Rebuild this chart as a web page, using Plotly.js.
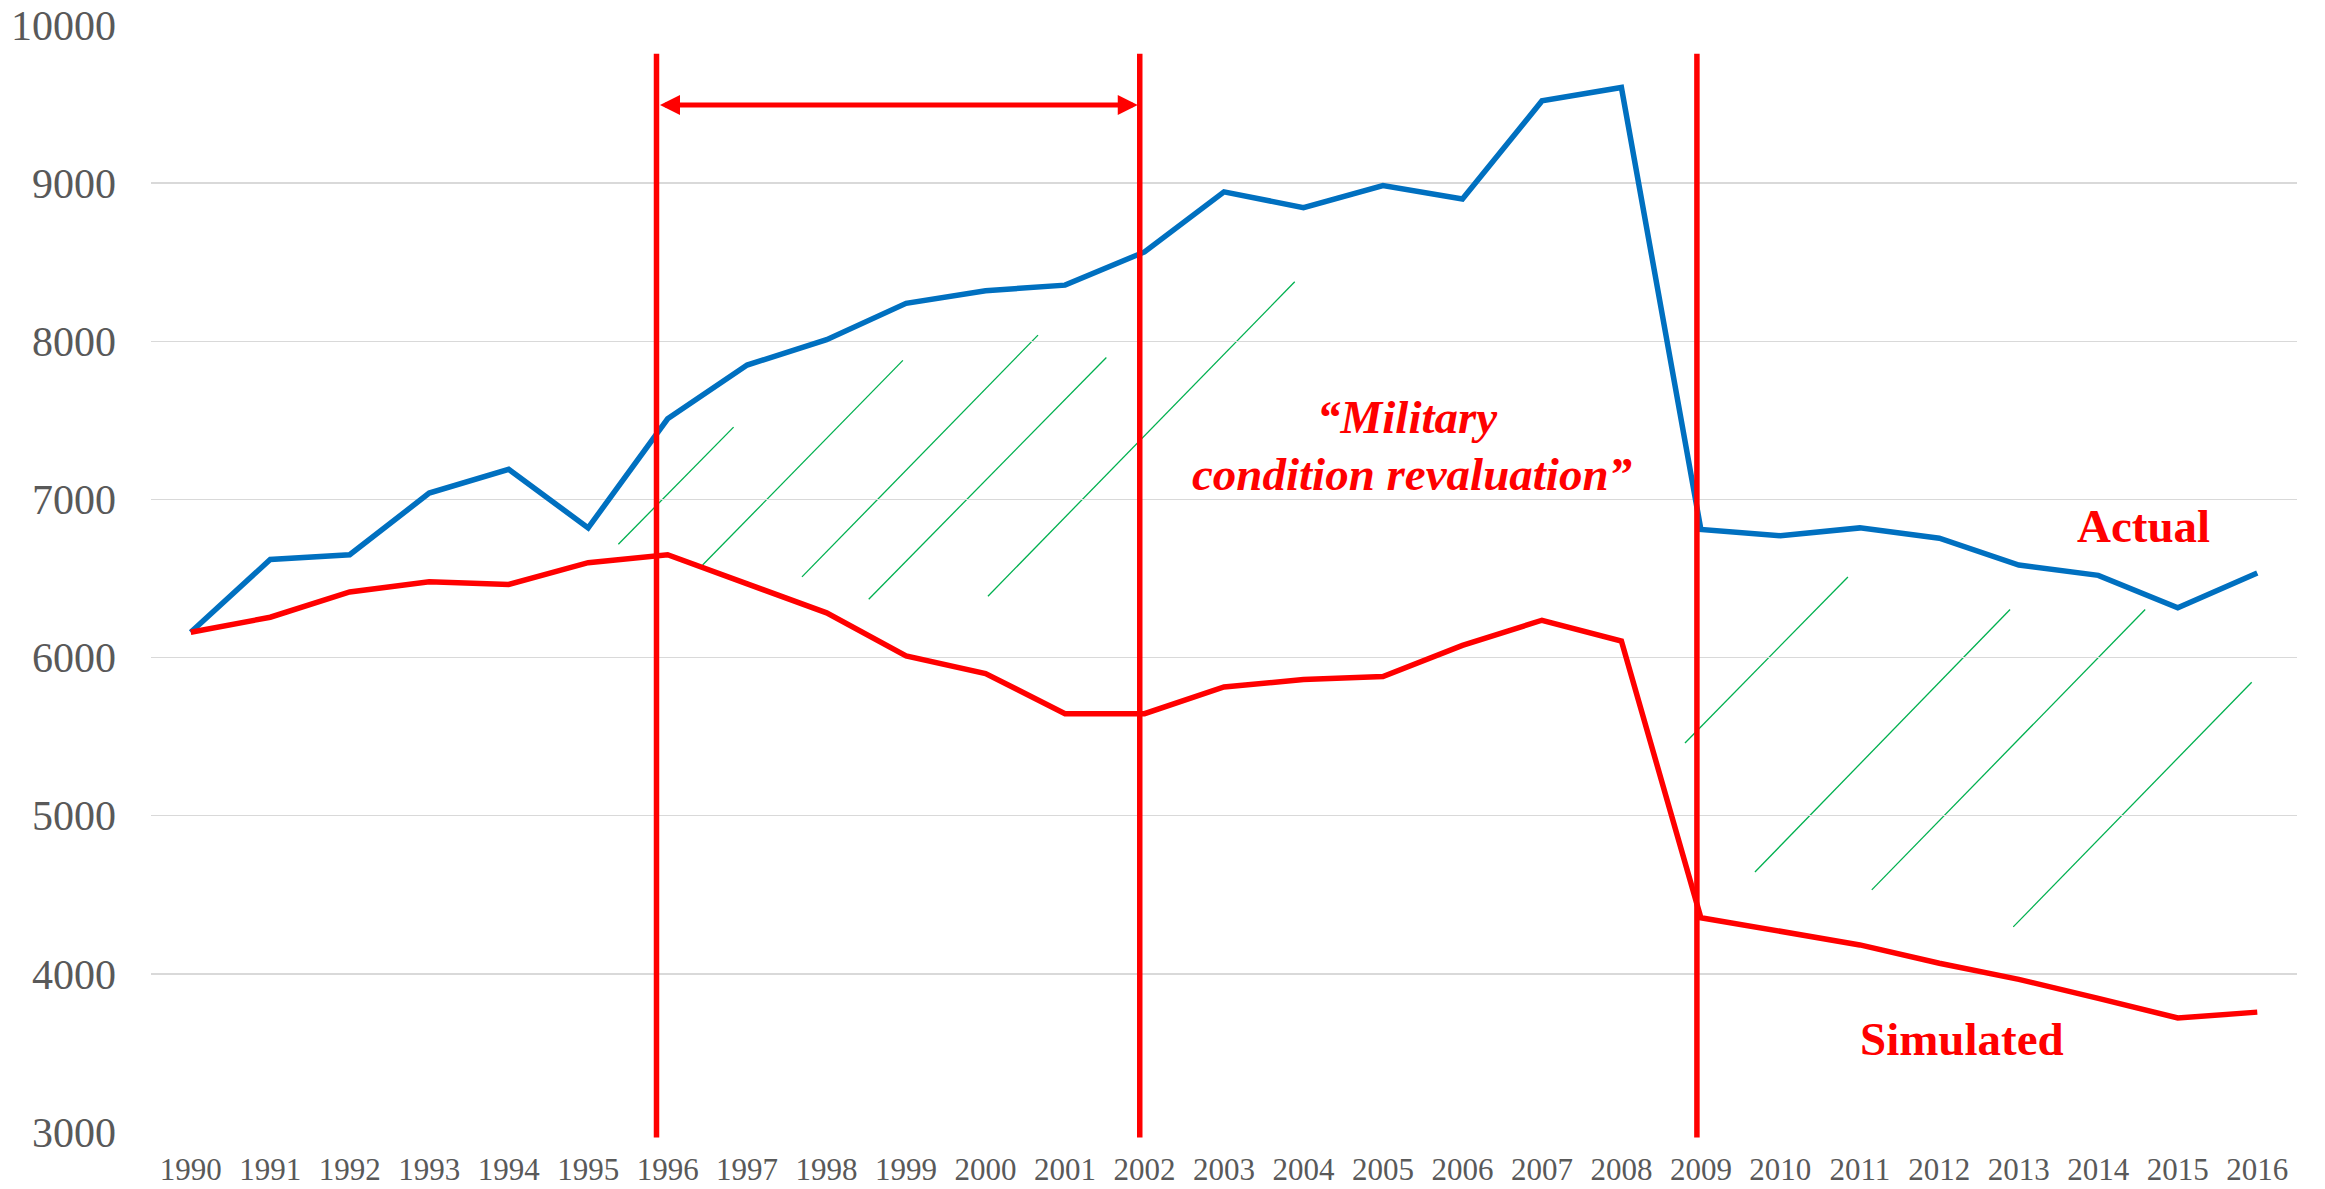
<!DOCTYPE html>
<html>
<head>
<meta charset="utf-8">
<script src="https://cdn.plot.ly/plotly-3.0.1.min.js"></script>
<style>
  html, body { margin: 0; padding: 0; background: #ffffff; }
  #chart { width: 2325px; height: 1189px; }
</style>
</head>
<body>
<div id="chart"></div>
<script>
// ---- data ----
const years = [1990, 1991, 1992, 1993, 1994, 1995, 1996, 1997, 1998, 1999, 2000, 2001, 2002,
               2003, 2004, 2005, 2006, 2007, 2008, 2009, 2010, 2011, 2012, 2013, 2014, 2015, 2016];
const yearLabels = years.map(String);
const actual = [6160, 6620, 6650, 7040, 7190, 6820, 7510, 7850, 8010, 8240, 8320, 8355, 8565,
                8945, 8845, 8985, 8900, 9520, 9605, 6810, 6770, 6820, 6755, 6585, 6520, 6315, 6535];
const simulated = [6160, 6255, 6415, 6480, 6462, 6600, 6650, 6462, 6283, 6011, 5899, 5645, 5645,
                   5814, 5861, 5880, 6077, 6236, 6105, 4355, 4268, 4183, 4067, 3965, 3845, 3721, 3758];
const yTicks = [3000, 4000, 5000, 6000, 7000, 8000, 9000, 10000];
// hand-placed divider lines (slightly left of the 1996, 2002 and 2009 points, as drawn)
const dividerPositions = [1995.86, 2001.94, 2008.95];
const periodArrow = {from: 1995.86, to: 2001.94, level: 9494};
const labelTexts = {
  line1: '\u201CMilitary',
  line2: 'condition revaluation\u201D',
  actual: 'Actual',
  simulated: 'Simulated'
};

// decorative hatch strokes between the curves: [x0, y0, x1, y1] in axis units
const hatchSegments = [
  [1995.38, 6717, 1996.83, 7457],
  [1996.44, 6585, 1998.96, 7879],
  [1997.69, 6510, 2000.66, 8039],
  [1998.53, 6369, 2001.52, 7898],
  [2000.03, 6388, 2003.89, 8376],
  [2008.80, 5460, 2010.85, 6510],
  [2009.68, 4644, 2012.89, 6304],
  [2011.15, 4531, 2014.59, 6304],
  [2012.93, 4297, 2015.93, 5844]
];

const RED = '#FF0000';
const BLUE = '#0070C0';
const GREEN = '#00B050';
const SERIF = '"Liberation Serif", "Times New Roman", Times, serif';

const traces = [
  {x: years, y: actual, type: 'scatter', mode: 'lines', name: 'Actual',
   line: {color: BLUE, width: 5.5}, hoverinfo: 'skip'},
  {x: years, y: simulated, type: 'scatter', mode: 'lines', name: 'Simulated',
   line: {color: RED, width: 5.5}, hoverinfo: 'skip'}
];

const shapes = [];
hatchSegments.forEach(s => shapes.push({
  type: 'line', xref: 'x', yref: 'y', x0: s[0], y0: s[1], x1: s[2], y1: s[3],
  line: {color: GREEN, width: 1.3}, layer: 'below'
}));
dividerPositions.forEach(px => shapes.push({
  type: 'line', xref: 'x', yref: 'paper', x0: px, x1: px, y0: -0.005, y1: 0.974,
  line: {color: RED, width: 5.5}, layer: 'above'
}));

const annotations = [
  {x: periodArrow.to, y: periodArrow.level, ax: periodArrow.from, ay: periodArrow.level,
   xref: 'x', yref: 'y', axref: 'x', ayref: 'y', text: '', showarrow: true,
   arrowside: 'end+start', arrowhead: 2, startarrowhead: 2,
   arrowsize: 0.8, startarrowsize: 0.8, arrowwidth: 5, arrowcolor: RED,
   standoff: 2, startstandoff: 2},
  {x: 2005.30, y: 7521, xref: 'x', yref: 'y', text: labelTexts.line1, showarrow: false,
   xanchor: 'center', yanchor: 'middle',
   font: {family: SERIF, size: 47, color: RED, weight: 'bold', style: 'italic'}},
  {x: 2005.36, y: 7160, xref: 'x', yref: 'y', text: labelTexts.line2, showarrow: false,
   xanchor: 'center', yanchor: 'middle',
   font: {family: SERIF, size: 47, color: RED, weight: 'bold', style: 'italic'}},
  {x: 2014.57, y: 6830, xref: 'x', yref: 'y', text: labelTexts.actual, showarrow: false,
   xanchor: 'center', yanchor: 'middle',
   font: {family: SERIF, size: 47, color: RED, weight: 'bold'}},
  {x: 2012.29, y: 3585, xref: 'x', yref: 'y', text: labelTexts.simulated, showarrow: false,
   xanchor: 'center', yanchor: 'middle',
   font: {family: SERIF, size: 47, color: RED, weight: 'bold'}}
];

const layout = {
  width: 2325, height: 1189,
  margin: {l: 151, r: 28, t: 25, b: 57, pad: 0},
  paper_bgcolor: '#ffffff', plot_bgcolor: '#ffffff',
  showlegend: false,
  font: {family: SERIF, color: '#595959'},
  xaxis: {
    range: [1989.5, 2016.5], tickmode: 'array', tickvals: years, ticktext: yearLabels,
    showgrid: false, zeroline: false, showline: false, ticks: '',
    tickfont: {family: SERIF, size: 31, color: '#595959'},
    ticklabelstandoff: 16, fixedrange: true
  },
  yaxis: {
    range: [3000, 10000], tickmode: 'array', tickvals: yTicks, ticktext: yTicks.map(String),
    showgrid: true, gridcolor: '#D9D9D9', gridwidth: 1.3,
    zeroline: false, showline: false, ticks: '',
    tickfont: {family: SERIF, size: 42, color: '#595959'},
    ticklabelstandoff: 34, fixedrange: true
  },
  shapes: shapes,
  annotations: annotations
};

Plotly.newPlot('chart', traces, layout, {displayModeBar: false, staticPlot: true});
</script>
</body>
</html>
